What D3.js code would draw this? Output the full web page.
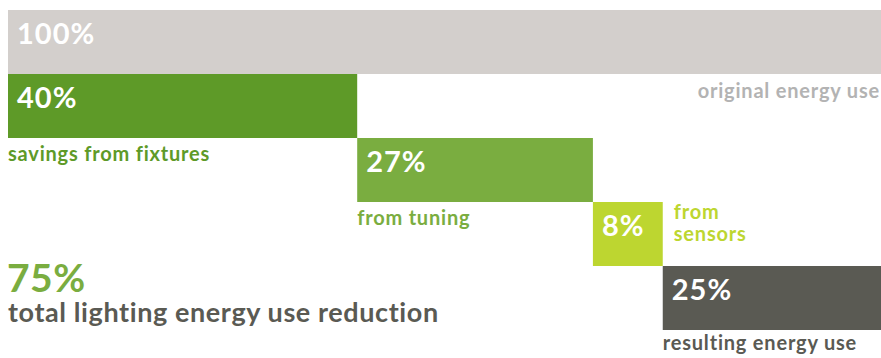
<!DOCTYPE html>
<html>
<head>
<meta charset="utf-8">
<script src="https://cdn.jsdelivr.net/npm/d3@7"></script>
<style>
  body { margin: 0; background: #fff; }
  svg { display: block; font-family: Lato, "Open Sans", sans-serif; }
</style>
</head>
<body>
<svg id="chart" width="881" height="358"></svg>
<script>
// Data
const categories = ["original energy use", "savings from fixtures", "from tuning", "from sensors", "resulting energy use"];
const values = [100, 40, 27, 8, 25];
const starts = [0, 0, 40, 67, 75];
const valueLabels = ["100%", "40%", "27%", "8%", "25%"];
const totalLabel = "75%";
const totalText = "total lighting energy use reduction";

const barColors = ["#d3cfcc", "#5e9a28", "#7aad40", "#bdd630", "#5a5a53"];
const textColors = ["#b3b3b3", "#5e9a28", "#7aad40", "#bdd630", "#5a5a53"];

const svg = d3.select("#chart");
const x = d3.scaleLinear().domain([0, 100]).range([8, 881]);
const y = d3.scaleBand().domain(d3.range(values.length)).range([10, 330]).padding(0);

const rows = values.map((v, i) => ({ i, v, s: starts[i], cat: categories[i], lab: valueLabels[i] }));

svg.selectAll("rect.bar").data(rows).join("rect")
  .attr("class", "bar")
  .attr("x", d => x(d.s))
  .attr("y", d => y(d.i))
  .attr("width", d => x(d.s + d.v) - x(d.s))
  .attr("height", y.bandwidth())
  .attr("fill", d => barColors[d.i]);

svg.selectAll("text.val").data(rows).join("text")
  .attr("class", "val")
  .attr("x", d => x(d.s) + 9)
  .attr("y", d => y(d.i) + 34)
  .attr("fill", "#fff")
  .attr("font-weight", 700)
  .attr("font-size", 29)
  .attr("letter-spacing", 1)
  .text(d => d.lab);

// category labels
const catG = svg.append("g").attr("font-weight", 700).attr("font-size", 20).attr("letter-spacing", 0.8);
// original energy use: right aligned under first bar
catG.append("text")
  .attr("x", x(100) - 1).attr("y", y(1) + 24)
  .attr("text-anchor", "end")
  .attr("fill", textColors[0]).text(categories[0]);
// savings from fixtures
catG.append("text")
  .attr("x", x(starts[1])).attr("y", y(1) + y.bandwidth() + 23)
  .attr("fill", textColors[1]).text(categories[1]);
// from tuning
catG.append("text")
  .attr("x", x(starts[2])).attr("y", y(2) + y.bandwidth() + 23)
  .attr("fill", textColors[2]).text(categories[2]);
// from sensors (two lines, right of bar)
const sx = x(starts[3] + values[3]) + 11;
const sens = catG.append("text")
  .attr("x", sx).attr("y", y(3) + 17)
  .attr("fill", textColors[3]);
categories[3].split(" ").forEach((w, k) => {
  sens.append("tspan").attr("x", sx).attr("dy", k === 0 ? 0 : 22).text(w);
});
// resulting energy use
catG.append("text")
  .attr("x", x(starts[4])).attr("y", y(4) + y.bandwidth() + 20)
  .attr("fill", textColors[4]).text(categories[4]);

// total
svg.append("text")
  .attr("x", 7).attr("y", 292)
  .attr("fill", "#7aad40").attr("font-weight", 700).attr("font-size", 39)
  .attr("letter-spacing", 0.5)
  .text(totalLabel);
svg.append("text")
  .attr("x", 8).attr("y", 322)
  .attr("fill", "#5a5a53").attr("font-weight", 700).attr("font-size", 27)
  .attr("letter-spacing", 0.6)
  .text(totalText);
</script>
</body>
</html>
